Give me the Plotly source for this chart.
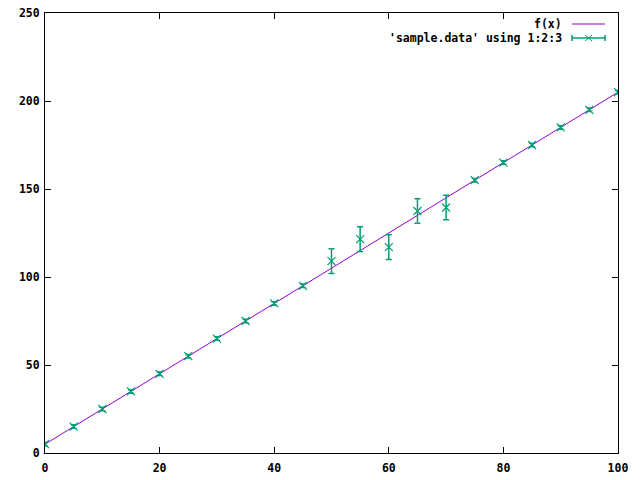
import plotly.graph_objects as go

# f(x) straight line endpoints
fx_x = [0, 100]
fx_y = [5, 205]

# sample.data columns 1:2:3
data_x = [0, 5, 10, 15, 20, 25, 30, 35, 40, 45, 50, 55, 60, 65, 70, 75, 80, 85, 90, 95, 100]
data_y = [5, 15, 25, 35, 45, 55, 65, 75, 85, 95, 109, 121.5, 117, 137.5, 139.5, 155, 165, 175, 185, 195, 205]
data_err = [1, 1, 1, 1, 1, 1, 1, 1, 1, 1, 7, 7, 7, 7, 7, 1, 1, 1, 1, 1, 1]

x_ticks = [0, 20, 40, 60, 80, 100]
y_ticks = [0, 50, 100, 150, 200, 250]

PURPLE = "#9400d3"
GREEN = "#009e73"
FONT = dict(family="DejaVu Sans Mono", size=11.5, color="black")

fig = go.Figure()
fig.add_trace(go.Scatter(x=fx_x, y=fx_y, mode="lines",
                         line=dict(color=PURPLE, width=1), showlegend=False))
fig.add_trace(go.Scatter(x=data_x, y=data_y, mode="markers",
                         marker=dict(symbol="x-thin", size=8, line=dict(color=GREEN, width=1.2), color=GREEN),
                         error_y=dict(type="data", array=data_err, color=GREEN, thickness=1.5, width=3),
                         showlegend=False))

axis_common = dict(showline=True, mirror="ticks", linecolor="black", linewidth=1,
                   ticks="inside", ticklen=6, tickcolor="black", showgrid=False, zeroline=False,
                   tickfont=dict(family="DejaVu Sans Mono", size=11.5, color="black"))

fig.update_xaxes(range=[0, 100], tickvals=x_ticks, ticktext=["<b>%d</b>" % v for v in x_ticks],
                 ticklabelstandoff=4, **axis_common)
fig.update_yaxes(range=[0, 250], tickvals=y_ticks, ticktext=["<b>%d</b>" % v for v in y_ticks],
                 ticklabelstandoff=2, **axis_common)

def px(xp):
    return (xp - 45) / 573.0

def py(yp):
    return (453 - yp) / 440.0

annotations = [
    dict(x=px(564), y=py(24), xref="paper", yref="paper", text="<b>f(x)</b>",
         showarrow=False, xanchor="right", yanchor="middle", font=FONT),
    dict(x=px(564), y=py(38), xref="paper", yref="paper", text="<b>'sample.data' using 1:2:3</b>",
         showarrow=False, xanchor="right", yanchor="middle", font=FONT),
]

shapes = [
    dict(type="line", xref="paper", yref="paper", x0=px(572), x1=px(605), y0=py(24), y1=py(24),
         line=dict(color=PURPLE, width=1)),
    dict(type="line", xref="paper", yref="paper", x0=px(572), x1=px(605), y0=py(38), y1=py(38),
         line=dict(color=GREEN, width=1.5)),
    dict(type="line", xref="paper", yref="paper", x0=px(572), x1=px(572), y0=py(35), y1=py(41),
         line=dict(color=GREEN, width=1.5)),
    dict(type="line", xref="paper", yref="paper", x0=px(605), x1=px(605), y0=py(35), y1=py(41),
         line=dict(color=GREEN, width=1.5)),
    dict(type="line", xref="paper", yref="paper", x0=px(585), x1=px(592), y0=py(35), y1=py(41),
         line=dict(color=GREEN, width=1)),
    dict(type="line", xref="paper", yref="paper", x0=px(585), x1=px(592), y0=py(41), y1=py(35),
         line=dict(color=GREEN, width=1)),
]

fig.update_layout(width=640, height=480, paper_bgcolor="white", plot_bgcolor="white",
                  margin=dict(l=45, r=22, t=13, b=27, autoexpand=False), showlegend=False,
                  annotations=annotations, shapes=shapes)

fig.write_html("out.html", config={"displayModeBar": False},
               post_script="document.body.style.margin='0';document.body.style.overflow='hidden';")
